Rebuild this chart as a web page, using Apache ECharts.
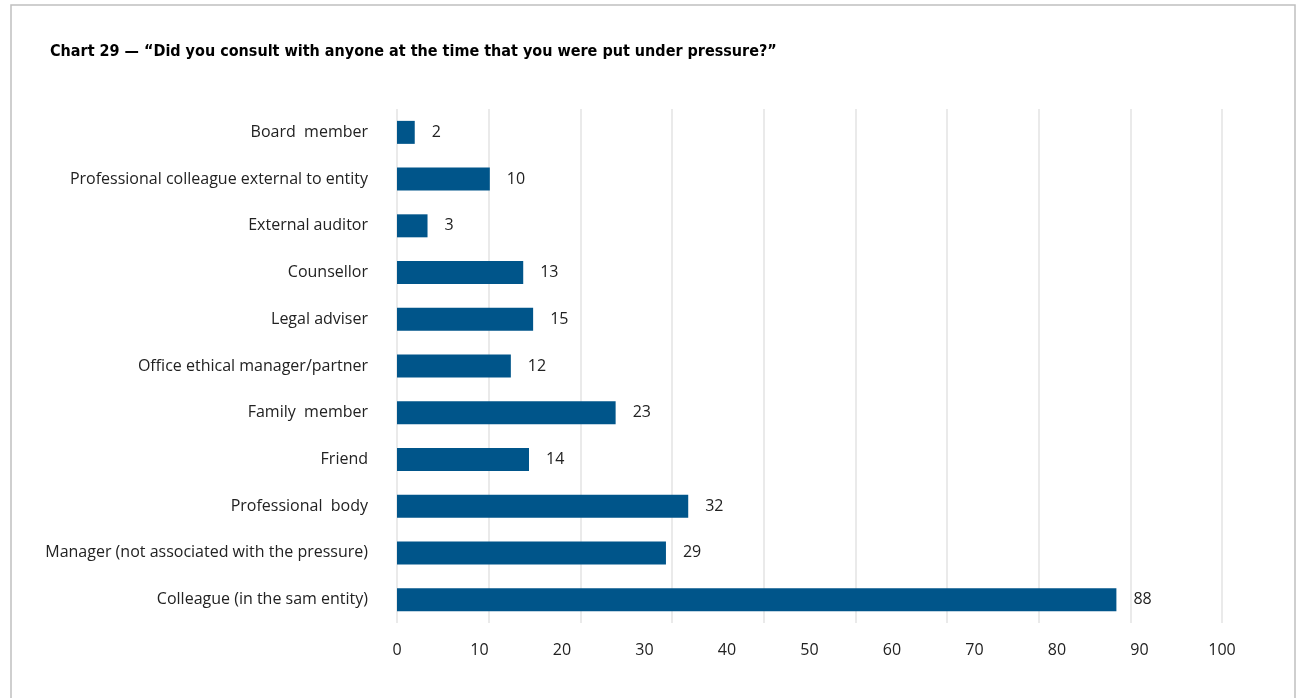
<!DOCTYPE html>
<html>
<head>
<meta charset="utf-8">
<script src="https://cdn.jsdelivr.net/npm/echarts@6/dist/echarts.min.js"></script>
<style>
html,body{margin:0;padding:0;background:#fff;}
#chart{width:1300px;height:698px;}
</style>
</head>
<body>
<div id="chart"></div>
<script>
// Categories, top to bottom as shown
const categories = [
  "Board  member",
  "Professional colleague external to entity",
  "External auditor",
  "Counsellor",
  "Legal adviser",
  "Office ethical manager/partner",
  "Family  member",
  "Friend",
  "Professional  body",
  "Manager (not associated with the pressure)",
  "Colleague (in the sam entity)"
];
// Bar lengths as drawn in the picture (read against the 0-100 tick labels)
const barValues = [2.15, 11.25, 3.7, 15.3, 16.5, 13.8, 26.5, 16.0, 35.3, 32.6, 87.2];
// Numbers printed next to bars
const labelValues = [2, 10, 3, 13, 15, 12, 23, 14, 32, 29, 88];
// Axis tick labels
const tickMin = 0, tickMax = 100, tickStep = 10;
// Gridline axis (the picture's gridlines are spaced 9 intervals across the plot)
const gridMax = 90;

const chart = echarts.init(document.getElementById('chart'), null, {renderer: 'canvas'});
const font = "'Open Sans', 'Noto Sans', sans-serif";

chart.setOption({
  animation: false,
  backgroundColor: '#ffffff',
  title: {
    text: 'Chart 29 \u2014 \u201cDid you consult with anyone at the time that you were put under pressure?\u201d',
    left: 45, top: 39,
    textStyle: {fontFamily: "'DejaVu Sans Condensed', 'Liberation Sans Narrow', sans-serif", fontWeight: 'bold', fontSize: 16, color: '#000'}
  },
  graphic: [{
    type: 'rect', silent: true, z: -1,
    shape: {x: 11, y: 5, width: 1284, height: 720},
    style: {fill: 'none', stroke: '#c0c0c0', lineWidth: 1.5}
  }],
  grid: {left: 397, right: 78, top: 109, bottom: 75, containLabel: false},
  xAxis: [{
    type: 'value', min: tickMin, max: tickMax, interval: tickStep,
    axisLine: {show: false}, axisTick: {show: false},
    splitLine: {show: false},
    axisLabel: {margin: 19, fontFamily: font, fontSize: 16, color: '#222'}
  }, {
    type: 'value', min: 0, max: gridMax, interval: tickStep, position: 'bottom',
    axisLine: {show: false}, axisTick: {show: false},
    axisLabel: {show: false},
    splitLine: {show: true, lineStyle: {color: '#e3e3e3', width: 1.5}}
  }],
  yAxis: {
    type: 'category', data: categories, inverse: true,
    axisLine: {show: false}, axisTick: {show: false},
    axisLabel: {margin: 29, fontFamily: font, fontSize: 16, color: '#222'}
  },
  series: [{
    type: 'bar', xAxisIndex: 0,
    data: barValues,
    barWidth: 23,
    itemStyle: {color: '#00558a'},
    label: {
      show: true, position: 'right', distance: 17,
      fontFamily: font, fontSize: 16, color: '#222',
      formatter: p => String(labelValues[p.dataIndex])
    }
  }]
});
</script>
</body>
</html>
